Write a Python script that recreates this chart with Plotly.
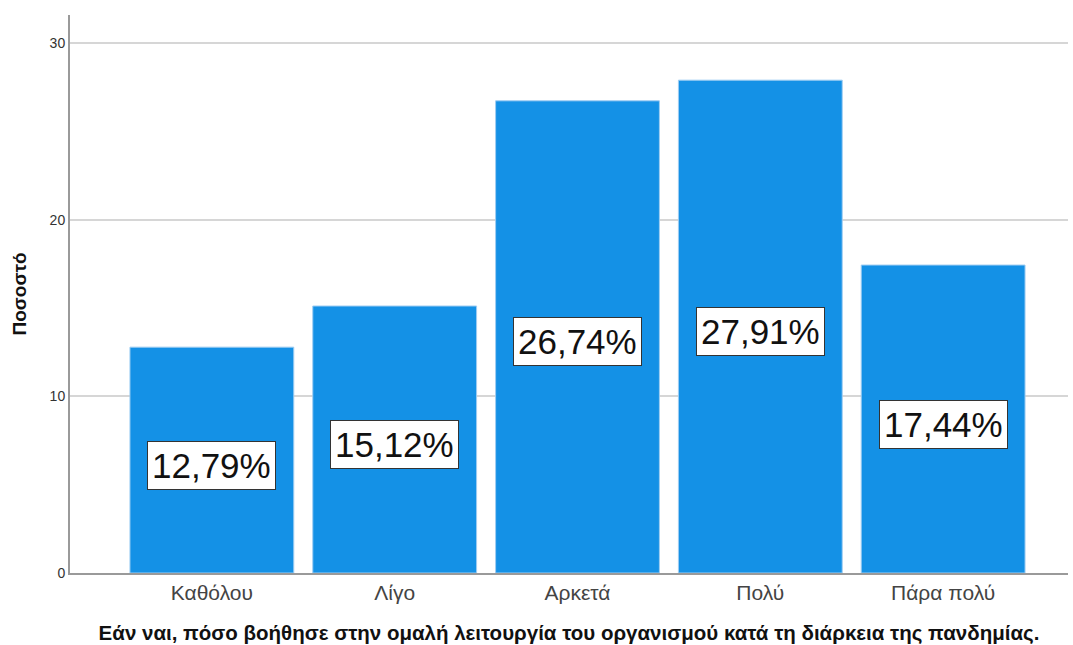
import plotly.graph_objects as go

# Response categories and percentage of respondents
categories = ["Καθόλου", "Λίγο", "Αρκετά", "Πολύ", "Πάρα πολύ"]
percentages = [12.79, 15.12, 26.74, 27.91, 17.44]
y_ticks = [0, 10, 20, 30]

x_idx = list(range(len(categories)))

fig = go.Figure()
fig.add_trace(go.Bar(
    x=x_idx,
    y=percentages,
    marker=dict(color="#1491E6", line=dict(color="#9FCDF2", width=1)),
    hoverinfo="skip",
))

# Value labels in boxed annotations at mid-height of each bar
for xi, v in zip(x_idx, percentages):
    fig.add_annotation(
        x=xi, y=v / 2, yshift=-5,
        text=f"{v:.2f}%".replace(".", ","),
        showarrow=False,
        font=dict(family="Liberation Sans, Arial, sans-serif", size=35, color="#111111"),
        bgcolor="white",
        bordercolor="#333333",
        borderwidth=1,
        borderpad=4,
    )

fig.update_layout(
    width=1073, height=645,
    margin=dict(l=70, r=5, t=15, b=72),
    paper_bgcolor="white",
    plot_bgcolor="white",
    bargap=0.104,
    showlegend=False,
    font=dict(family="Liberation Sans, Arial, sans-serif"),
    xaxis=dict(
        range=[-0.776, 4.683],
        tickmode="array",
        tickvals=x_idx,
        ticktext=categories,
        tickfont=dict(size=21, color="#444444"),
        showgrid=False,
        showline=True, linecolor="#9a9a9a", linewidth=2,
        ticks="",
        automargin=False,
        title=dict(
            text="<b>Εάν ναι, πόσο βοήθησε στην ομαλή λειτουργία του οργανισμού κατά τη διάρκεια της πανδημίας.</b>",
            font=dict(size=20.5, color="#111111"),
            standoff=23,
        ),
        zeroline=False,
    ),
    yaxis=dict(
        range=[0, 31.6],
        tickmode="array",
        tickvals=y_ticks,
        tickfont=dict(size=14, color="#333333"),
        showgrid=True, gridcolor="#d6d6d6", gridwidth=2,
        showline=True, linecolor="#9a9a9a", linewidth=2,
        ticks="",
        automargin=False,
        zeroline=False,
        title=dict(text="<b>Ποσοστό</b>", font=dict(size=19, color="#111111"), standoff=18),
    ),
)

fig.write_html("out.html")
